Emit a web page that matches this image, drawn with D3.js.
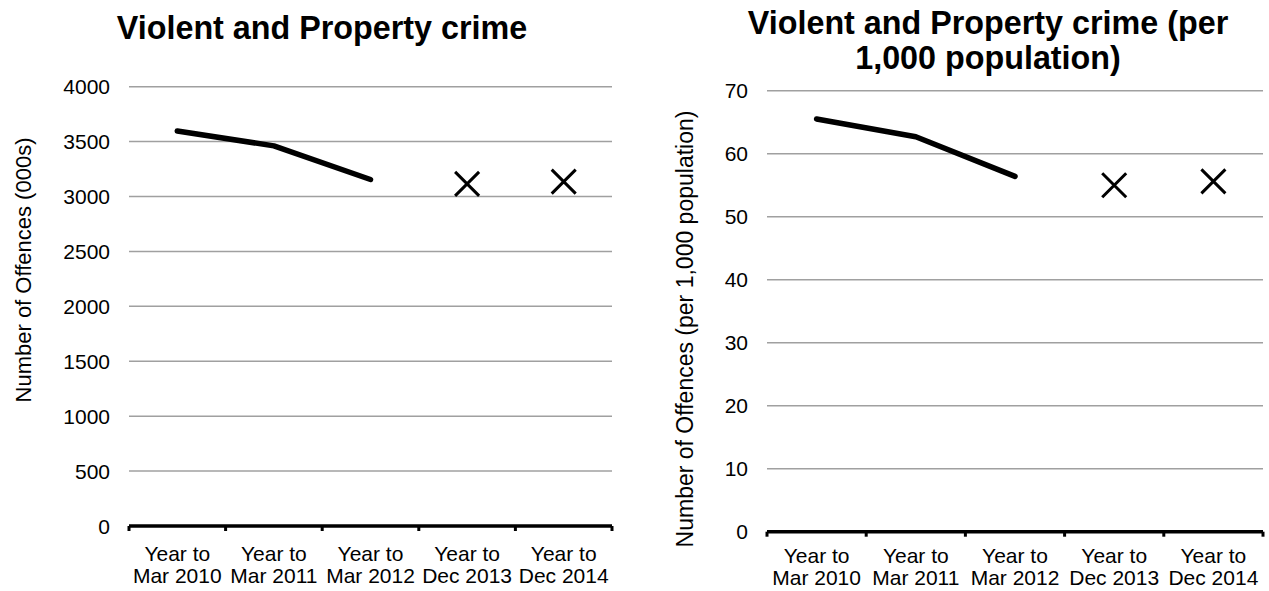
<!DOCTYPE html>
<html>
<head>
<meta charset="utf-8">
<script src="https://cdn.jsdelivr.net/npm/d3@7"></script>
<style>
  body { margin: 0; background: #fff; }
  svg { font-family: "Liberation Sans", Arial, sans-serif; }
  .grid line { stroke: #a0a0a0; stroke-width: 1.5; }
  .tick-label { font-size: 21px; fill: #000; }
  .axis-title { fill: #000; }
  .chart-title { font-size: 32.3px; font-weight: bold; fill: #000; }
</style>
</head>
<body>
<svg width="1269" height="591"></svg>
<script>
// categories shared by both panels (two lines each)
var categories = ['Year to Mar 2010', 'Year to Mar 2011', 'Year to Mar 2012', 'Year to Dec 2013', 'Year to Dec 2014'];

// left panel: number of offences (000s)
var offencesLine = [3597, 3461, 3155];   // first three years, joined by a line
var offencesCross = [3115, 3136];        // last two years, shown as crosses
var offencesTicks = [0, 500, 1000, 1500, 2000, 2500, 3000, 3500, 4000];

// right panel: offences per 1,000 population
var rateLine = [65.5, 62.7, 56.4];
var rateCross = [55.0, 55.6];
var rateTicks = [0, 10, 20, 30, 40, 50, 60, 70];

var svg = d3.select('svg');

function drawPanel(cfg) {
    var g = svg.append('g');

    var xScale = d3.scaleBand()
        .domain(categories)
        .range([cfg.left, cfg.right]);

    var yScale = d3.scaleLinear()
        .domain([0, d3.max(cfg.ticks)])
        .range([cfg.bottom, cfg.top]);

    var cx = function(i) { return xScale(categories[i]) + xScale.bandwidth() / 2; };

    // gridlines (skip zero, the axis covers it)
    g.append('g')
        .attr('class', 'grid')
        .selectAll('line')
        .data(cfg.ticks.filter(function(d) { return d > 0; }))
        .enter()
        .append('line')
        .attr('x1', cfg.left)
        .attr('x2', cfg.right)
        .attr('y1', function(d) { return yScale(d); })
        .attr('y2', function(d) { return yScale(d); });

    // y tick labels
    g.selectAll('.y-label')
        .data(cfg.ticks)
        .enter()
        .append('text')
        .attr('class', 'tick-label')
        .attr('text-anchor', 'end')
        .attr('x', cfg.left - 19)
        .attr('y', function(d) { return yScale(d) + 7.5; })
        .text(function(d) { return d; });

    // x axis: thick black line with tick marks at band edges
    var edges = categories.map(function(c) { return xScale(c); }).concat([cfg.right]);
    g.append('line')
        .attr('x1', cfg.left)
        .attr('x2', cfg.right)
        .attr('y1', yScale(0))
        .attr('y2', yScale(0))
        .style('stroke', '#000')
        .style('stroke-width', 3.5);
    g.selectAll('.x-tick')
        .data(edges)
        .enter()
        .append('line')
        .attr('x1', function(d) { return d; })
        .attr('x2', function(d) { return d; })
        .attr('y1', yScale(0))
        .attr('y2', yScale(0) + 5)
        .style('stroke', '#000')
        .style('stroke-width', 3);

    // x labels, two lines
    var xl = g.selectAll('.x-label')
        .data(categories)
        .enter()
        .append('text')
        .attr('class', 'tick-label')
        .attr('text-anchor', 'middle')
        .attr('y', cfg.xLabelY);
    xl.append('tspan')
        .attr('x', function(d) { return xScale(d) + xScale.bandwidth() / 2; })
        .text(function(d) { return d.slice(0, 7); });
    xl.append('tspan')
        .attr('x', function(d) { return xScale(d) + xScale.bandwidth() / 2; })
        .attr('dy', 22)
        .text(function(d) { return d.slice(8); });

    // line for the first three years
    var line = d3.line()
        .x(function(d, i) { return cx(i); })
        .y(function(d) { return yScale(d); });
    g.append('path')
        .attr('d', line(cfg.lineData))
        .style('fill', 'none')
        .style('stroke', '#000')
        .style('stroke-width', 5.5)
        .style('stroke-linecap', 'round')
        .style('stroke-linejoin', 'round');

    // crosses for the last two years
    g.selectAll('.cross')
        .data(cfg.crossData)
        .enter()
        .append('path')
        .attr('d', 'M-12,-12L12,12M-12,12L12,-12')
        .attr('transform', function(d, i) {
            return 'translate(' + cx(i + cfg.lineData.length) + ',' + yScale(d) + ')';
        })
        .style('stroke', '#000')
        .style('stroke-width', 3)
        .style('fill', 'none');

    // y axis title
    g.append('text')
        .attr('class', 'axis-title')
        .attr('text-anchor', 'middle')
        .style('font-size', cfg.yTitleSize + 'px')
        .attr('transform', 'translate(' + cfg.yTitleX + ',' + cfg.yTitleY + ') rotate(-90)')
        .text(cfg.yTitle);

    // chart title
    var t = g.append('text')
        .attr('class', 'chart-title')
        .attr('text-anchor', 'middle')
        .attr('y', cfg.titleY);
    cfg.title.forEach(function(s, i) {
        t.append('tspan')
            .attr('x', cfg.titleX)
            .attr('dy', i === 0 ? 0 : 35)
            .text(s);
    });
}

drawPanel({
    left: 129, right: 612, top: 86.7, bottom: 526,
    ticks: offencesTicks,
    lineData: offencesLine,
    crossData: offencesCross,
    xLabelY: 561,
    yTitle: 'Number of Offences (000s)',
    yTitleSize: 22, yTitleX: 31, yTitleY: 270,
    title: ['Violent and Property crime'],
    titleX: 322, titleY: 39
});

drawPanel({
    left: 767, right: 1263, top: 90.7, bottom: 531.7,
    ticks: rateTicks,
    lineData: rateLine,
    crossData: rateCross,
    xLabelY: 563,
    yTitle: 'Number of Offences (per 1,000 population)',
    yTitleSize: 23, yTitleX: 693, yTitleY: 329,
    title: ['Violent and Property crime (per', '1,000 population)'],
    titleX: 988, titleY: 34
});
</script>
</body>
</html>
